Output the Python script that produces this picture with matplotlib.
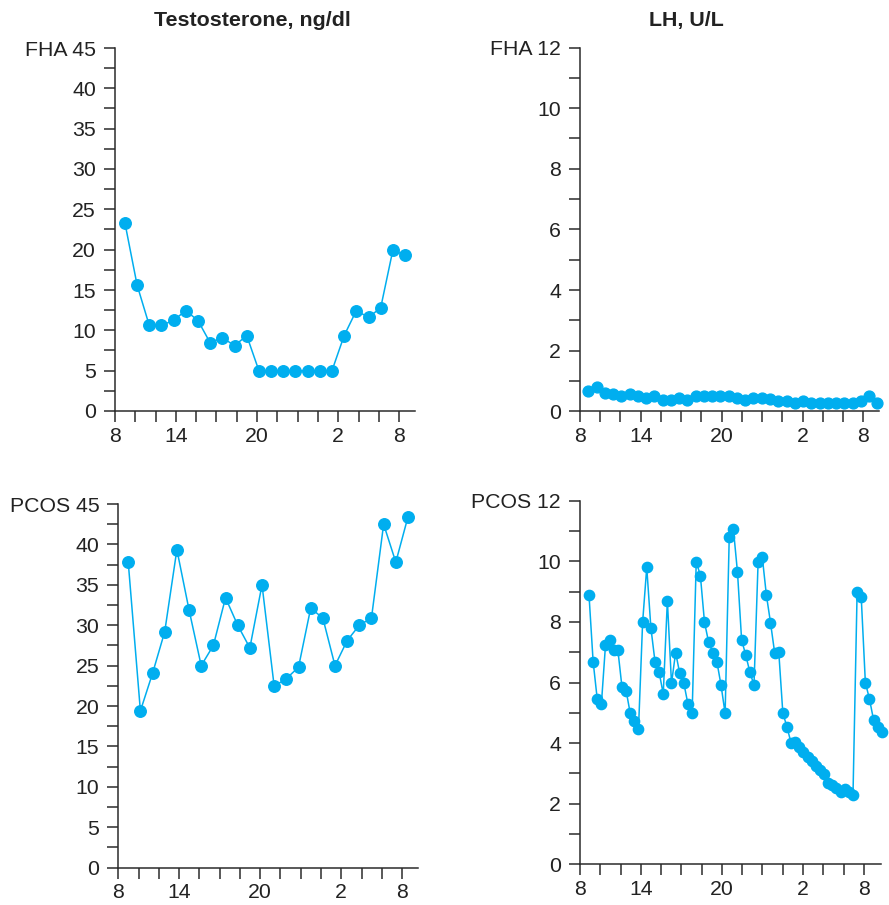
import numpy as np
import matplotlib
matplotlib.use("Agg")
import matplotlib.pyplot as plt
from matplotlib.ticker import MultipleLocator

plt.rcParams['font.family'] = ['Liberation Sans', 'DejaVu Sans']

# ---- data ----
time_labels = ["8", "14", "20", "2", "8"]
time_label_ticks = [0, 3, 7, 11, 14]   # tick index where each label sits
n_ticks = 15

testo_fha = [23.3, 15.6, 10.6, 10.6, 11.25, 12.45, 11.2, 8.45, 9.1, 8.1, 9.35,
             5, 5, 5, 5, 5, 5, 5, 9.35, 12.45, 11.6, 12.8, 19.95, 19.3]
testo_pcos = [37.8, 19.4, 24.05, 29.2, 39.35, 31.9, 25.0, 27.5, 33.4, 30.0, 27.2,
              35.0, 22.45, 23.4, 24.8, 32.1, 30.9, 25.0, 28.1, 30.0, 30.9, 42.5,
              37.8, 43.4]
lh_fha = [0.68, 0.81, 0.62, 0.56, 0.49, 0.56, 0.52, 0.44, 0.51, 0.37, 0.37, 0.45,
          0.37, 0.51, 0.51, 0.51, 0.51, 0.51, 0.44, 0.37, 0.45, 0.45, 0.40, 0.34,
          0.35, 0.26, 0.34, 0.26, 0.26, 0.26, 0.26, 0.26, 0.26, 0.34, 0.52, 0.29]
lh_pcos = [8.89, 6.69, 5.45, 5.28, 7.24, 7.4, 7.07, 7.07, 5.84, 5.73, 4.98, 4.73,
           4.46, 7.99, 9.80, 7.81, 6.69, 6.34, 5.62, 8.70, 5.97, 6.99, 6.30, 5.97,
           5.28, 4.98, 9.99, 9.53, 7.99, 7.33, 6.99, 6.69, 5.92, 4.98, 10.81, 11.07,
           9.64, 7.40, 6.91, 6.34, 5.92, 9.99, 10.15, 8.89, 7.98, 6.99, 7.02, 4.98,
           4.54, 3.99, 4.03, 3.88, 3.72, 3.55, 3.41, 3.25, 3.11, 2.98, 2.67, 2.61,
           2.51, 2.40, 2.48, 2.37, 2.28, 8.99, 8.81, 6.0, 5.45, 4.76, 4.54, 4.38]

BLUE = "#00AEEF"
AXC = "#2b2b2b"

W, H = 889, 905
fig = plt.figure(figsize=(W / 100, H / 100), dpi=100)


def px_axes(x0, x1, ytop, ybot):
    return fig.add_axes([x0 / W, 1 - ybot / H, (x1 - x0) / W, (ybot - ytop) / H])


def setup(ax, values, ymax, ystep, prefix, x0, step, xmax, ms):
    x = x0 + step * np.arange(len(values))
    ax.plot(x, values, color=BLUE, lw=1.1, marker='o', ms=ms, mec=BLUE, mfc=BLUE,
            clip_on=False, zorder=3)
    ax.set_xlim(0, xmax)
    ax.set_ylim(0, ymax)
    for s in ['top', 'right']:
        ax.spines[s].set_visible(False)
    for s in ['left', 'bottom']:
        ax.spines[s].set_color(AXC)
        ax.spines[s].set_linewidth(1.1)
    ax.set_xticks(range(n_ticks))
    labels = [""] * n_ticks
    for lab, pos in zip(time_labels, time_label_ticks):
        labels[pos] = lab
    ax.set_xticklabels(labels)
    yt = np.arange(0, ymax + 0.01, ystep)
    ax.set_yticks(yt)
    ylabs = [f"{v:g}" for v in yt]
    ylabs[-1] = f"{prefix} {ylabs[-1]}"
    ax.set_yticklabels(ylabs)
    ax.yaxis.set_minor_locator(MultipleLocator(ystep / 2))
    ax.tick_params(axis='both', which='both', direction='out', length=7.7,
                   width=1.1, color=AXC, labelsize=15.3, labelcolor="#222222")
    ax.tick_params(axis='x', pad=3.5)
    ax.tick_params(axis='y', pad=6)


ax1 = px_axes(115, 415, 48, 411)
setup(ax1, testo_fha, 45, 5, "FHA", 0.49, 0.6, 14.78, 8.3)
ax2 = px_axes(580, 879, 47.5, 411.3)
setup(ax2, lh_fha, 12, 2, "FHA", 0.41, 0.408, 14.77, 7.8)
ax3 = px_axes(118.3, 418.3, 504, 867.7)
setup(ax3, testo_pcos, 45, 5, "PCOS", 0.49, 0.6, 14.8, 8.3)
ax4 = px_axes(580, 881, 500.7, 864.3)
setup(ax4, lh_pcos, 12, 2, "PCOS", 0.444, 0.2035, 14.85, 7.4)

fig.text(252 / W, 1 - 26 / H, "Testosterone, ng/dl", ha='center', va='baseline',
         fontsize=15.4, fontweight='bold', color="#222222")
fig.text(686 / W, 1 - 26 / H, "LH, U/L", ha='center', va='baseline',
         fontsize=15.4, fontweight='bold', color="#222222")

fig.savefig("out.png", dpi=100)
